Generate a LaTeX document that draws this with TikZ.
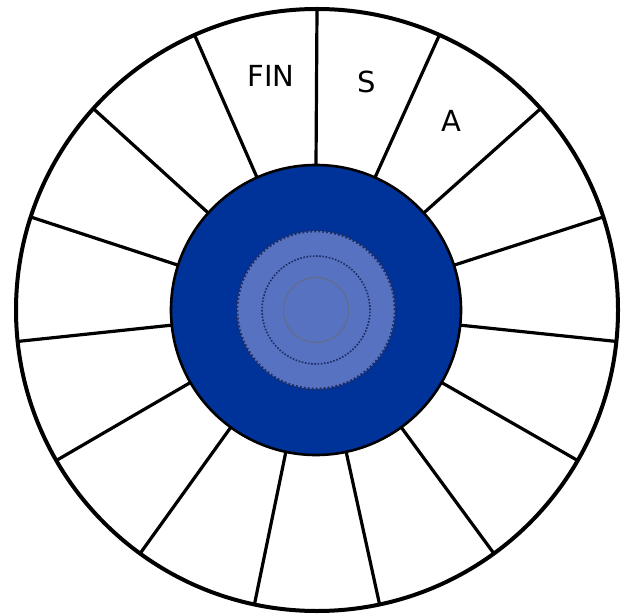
\documentclass[tikz,border=0pt]{standalone}
\usepackage{fontspec}
\setmainfont{DejaVu Sans}
\usepackage{tikz}
\definecolor{hubblue}{RGB}{0,51,153}
\definecolor{corelight}{RGB}{86,114,192}
\definecolor{coreline}{RGB}{30,45,100}
\tikzset{ring/.style={circle, inner sep=0pt, outer sep=0pt, minimum size=#1}}
\tikzset{spoke/.style={line width=1.6pt}}
\tikzset{seg/.style={inner sep=0pt, font=\fontsize{14.5}{17}\selectfont}}

\begin{document}
\begin{tikzpicture}[x=0.5pt,y=-0.5pt]
\useasboundingbox (0,0) rectangle (631,614);
\node[ring=301pt, draw, line width=2pt] (rim) at (317,310) {};
\node[ring=145pt, draw, fill=hubblue, line width=1.3pt] (hub) at (316,310) {};
\foreach \k in {0,...,14}
  \draw[spoke] (hub.90-24*\k) -- (rim.90-24*\k);
% core of the hub
\node[ring=79pt, fill=corelight, draw=coreline, line width=1.4pt, dash pattern=on 0.9pt off 1.1pt] (core) at (316,310) {};
\node[ring=54pt, draw=coreline, line width=0.8pt, dash pattern=on 0.8pt off 0.8pt] (mid) at (316,310) {};
\node[ring=32.5pt, draw=coreline!70, line width=0.7pt] (eye) at (316,310) {};
\node[seg] (fin) at (271,76) {FIN};
\node[seg] (s) at (367,82) {S};
\node[seg] (a) at (451,121) {A};
\end{tikzpicture}
\end{document}
